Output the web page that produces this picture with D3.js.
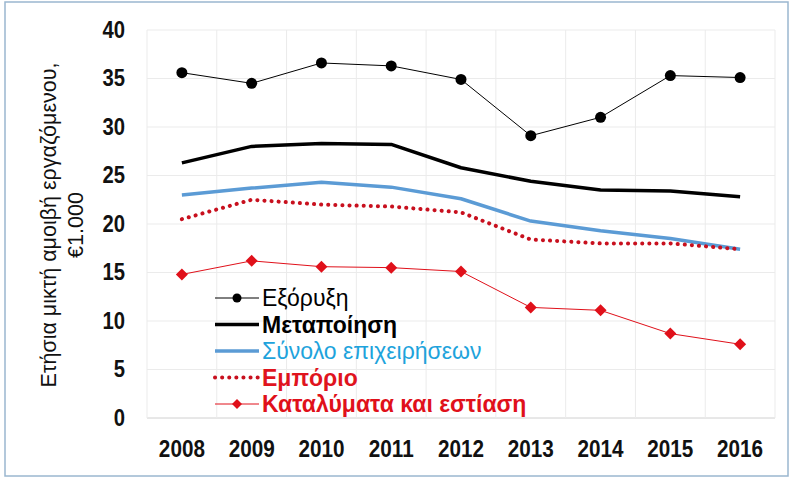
<!DOCTYPE html>
<html>
<head>
<meta charset="utf-8">
<script src="https://cdn.jsdelivr.net/npm/d3@7"></script>
<style>
  body { margin: 0; background: #fff; }
  svg { display: block; font-family: "Liberation Sans", Arial, sans-serif; }
</style>
</head>
<body>
<div id="chart"></div>
<script>
const years = ['2008', '2009', '2010', '2011', '2012', '2013', '2014', '2015', '2016'];
const yTicks = [0, 5, 10, 15, 20, 25, 30, 35, 40];

const mining = [35.6, 34.5, 36.6, 36.3, 34.9, 29.1, 31.0, 35.3, 35.1];
const manufacturing = [26.3, 28.0, 28.3, 28.2, 25.8, 24.4, 23.5, 23.4, 22.8];
const total = [23.0, 23.7, 24.3, 23.8, 22.6, 20.3, 19.3, 18.5, 17.4];
const trade = [20.5, 22.5, 22.0, 21.8, 21.2, 18.4, 18.0, 18.0, 17.4];
const hospitality = [14.8, 16.2, 15.6, 15.5, 15.1, 11.4, 11.1, 8.7, 7.6];

const series = [
  { name: 'Εξόρυξη', values: mining, color: '#000', width: 1, marker: 'circle', text: '#000', weight: 'normal' },
  { name: 'Μεταποίηση', values: manufacturing, color: '#000', width: 3.5, text: '#000', weight: 'bold' },
  { name: 'Σύνολο επιχειρήσεων', values: total, color: '#5b9bd5', width: 3.5, text: '#1ea3dc', weight: 'normal' },
  { name: 'Εμπόριο', values: trade, color: '#c8101e', width: 4, dash: '0.1 7', text: '#e0141e', weight: 'bold' },
  { name: 'Καταλύματα και εστίαση', values: hospitality, color: '#e0101a', width: 1, marker: 'diamond', text: '#e0101a', weight: 'bold' }
];

const width = 790, height = 479;
const margin = { top: 30, right: 15, bottom: 61, left: 147 };

const svg = d3.select('#chart').append('svg')
  .attr('width', width)
  .attr('height', height);

// outer frame
svg.append('rect')
  .attr('x', 5).attr('y', 2)
  .attr('width', width - 7).attr('height', height - 5)
  .style('fill', '#fff')
  .style('stroke', '#9ab7cf')
  .style('stroke-width', 1.5);

const x = d3.scaleBand().domain(years).range([margin.left, width - margin.right]);
const y = d3.scaleLinear().domain([0, 40]).range([height - margin.bottom, margin.top]);

// grid
svg.append('g')
  .selectAll('line')
  .data(yTicks)
  .enter()
  .append('line')
  .attr('x1', margin.left).attr('x2', width - margin.right)
  .attr('y1', d => y(d)).attr('y2', d => y(d))
  .style('stroke', d => d === 0 ? '#d0d0d0' : '#ebebeb')
  .style('stroke-width', 1);

const bounds = years.map(d => x(d)).concat([x(years[years.length - 1]) + x.bandwidth()]);
svg.append('g')
  .selectAll('line')
  .data(bounds)
  .enter()
  .append('line')
  .attr('x1', d => d).attr('x2', d => d)
  .attr('y1', y(0)).attr('y2', y(40))
  .style('stroke', '#ebebeb')
  .style('stroke-width', 1);

// axes
const yAxis = svg.append('g')
  .attr('transform', `translate(${margin.left - 22},0)`)
  .call(d3.axisLeft(y).tickValues(yTicks).tickSize(0).tickPadding(0));
yAxis.select('.domain').remove();
yAxis.selectAll('text')
  .attr('transform', 'scale(0.88,1)')
  .style('font-size', '23px')
  .style('font-weight', 'bold')
  .style('fill', '#111');

const xAxis = svg.append('g')
  .attr('transform', `translate(0,${y(0)})`)
  .call(d3.axisBottom(x).tickSize(0).tickPadding(23));
xAxis.select('.domain').remove();
xAxis.selectAll('text')
  .attr('transform', 'scale(0.9,1)')
  .style('font-size', '23px')
  .style('font-weight', 'bold')
  .style('fill', '#111');

// axis title
const title = svg.append('text')
  .attr('transform', 'translate(48,225) rotate(-90)')
  .attr('text-anchor', 'middle')
  .style('font-size', '21.5px')
  .style('fill', '#111');
title.append('tspan').attr('x', 0).attr('dy', '0.35em').text('Ετήσια μικτή αμοιβή εργαζόμενου,');
title.append('tspan').attr('x', 0).attr('dy', '1.3em').text('€1.000');

// lines
const cx = d => x(d) + x.bandwidth() / 2;
const line = d3.line()
  .x((d, i) => cx(years[i]))
  .y(d => y(d));

series.forEach(s => {
  svg.append('path')
    .datum(s.values)
    .attr('d', line)
    .style('fill', 'none')
    .style('stroke', s.color)
    .style('stroke-width', s.width)
    .style('stroke-linejoin', 'round')
    .style('stroke-linecap', s.dash ? 'round' : 'butt')
    .style('stroke-dasharray', s.dash || null);

  if (s.marker === 'circle') {
    svg.append('g')
      .selectAll('circle')
      .data(s.values)
      .enter()
      .append('circle')
      .attr('cx', (d, i) => cx(years[i]))
      .attr('cy', d => y(d))
      .attr('r', 5.5)
      .style('fill', s.color);
  }
  if (s.marker === 'diamond') {
    svg.append('g')
      .selectAll('path')
      .data(s.values)
      .enter()
      .append('path')
      .attr('transform', (d, i) => `translate(${cx(years[i])},${y(d)})`)
      .attr('d', 'M0,-6L6,0L0,6L-6,0Z')
      .style('fill', s.color);
  }
});

// legend
const legend = svg.append('g').attr('transform', 'translate(215,298)');
series.forEach((s, i) => {
  const g = legend.append('g').attr('transform', `translate(0,${i * 26.5})`);
  g.append('line')
    .attr('x1', 0).attr('x2', 44)
    .attr('y1', 0).attr('y2', 0)
    .style('stroke', s.color)
    .style('stroke-width', s.width)
    .style('stroke-linecap', s.dash ? 'round' : 'butt')
    .style('stroke-dasharray', s.dash || null);
  if (s.marker === 'circle') {
    g.append('circle').attr('cx', 22).attr('cy', 0).attr('r', 4.5).style('fill', s.color);
  }
  if (s.marker === 'diamond') {
    g.append('path').attr('transform', 'translate(22,0)').attr('d', 'M0,-5L5,0L0,5L-5,0Z').style('fill', s.color);
  }
  g.append('text')
    .attr('x', 47)
    .attr('dy', '0.35em')
    .text(s.name)
    .style('font-size', '23px')
    .style('font-weight', s.weight)
    .style('fill', s.text);
});
</script>
</body>
</html>
